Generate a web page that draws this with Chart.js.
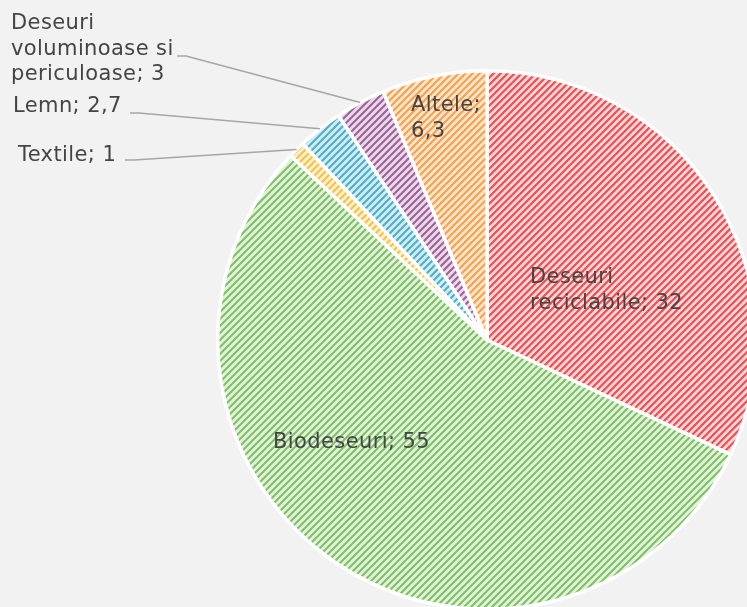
<!DOCTYPE html>
<html>
<head>
<meta charset="utf-8">
<script src="https://cdn.jsdelivr.net/npm/chart.js@4"></script>
<style>
  html, body { margin: 0; padding: 0; background: #f2f2f2; overflow: hidden; }
  #wrap { position: absolute; left: 0; top: 0; }
</style>
</head>
<body>
<div id="wrap"><canvas id="pie" width="800" height="640"></canvas></div>
<script>
const categories = ["Deseuri reciclabile", "Biodeseuri", "Textile", "Lemn", "Deseuri voluminoase si periculoase", "Altele"];
const values = [32, 55, 1, 2.7, 3, 6.3];
const lineColors = ["#f04c52", "#7dc262", "#f4c24c", "#4cb0c9", "#9d6097", "#f8a04a"];
const fillColors = ["#fdd6d6", "#e5f1df", "#fdf0ca", "#d4ecf2", "#eadaea", "#fee6ce"];

// text lines per slice, and where they sit
const labelLines = [
  ["Deseuri", "reciclabile; 32"],
  ["Biodeseuri; 55"],
  ["Textile; 1"],
  ["Lemn; 2,7"],
  ["Deseuri", "voluminoase si", "periculoase; 3"],
  ["Altele;", "6,3"]
];
const labelPos = [
  {x: 530, y: 278},
  {x: 273, y: 443},
  {x: 18, y: 156, elbow: {x: 125, y: 160}},
  {x: 13, y: 107, elbow: {x: 130, y: 113}},
  {x: 11, y: 24, elbow: {x: 177, y: 56}},
  {x: 411, y: 106}
];

function hatch(bg, fg) {
  const s = 7;
  const t = document.createElement("canvas");
  t.width = s; t.height = s;
  const g = t.getContext("2d");
  g.fillStyle = bg;
  g.fillRect(0, 0, s, s);
  g.strokeStyle = fg;
  g.lineWidth = 2.1;
  g.beginPath();
  g.moveTo(0, s); g.lineTo(s, 0);
  g.moveTo(-1, 1); g.lineTo(1, -1);
  g.moveTo(s - 1, s + 1); g.lineTo(s + 1, s - 1);
  g.stroke();
  return g.createPattern(t, "repeat");
}

const labelPlugin = {
  id: "sliceLabels",
  afterDatasetsDraw(chart) {
    const c = chart.ctx;
    const arcs = chart.getDatasetMeta(0).data;
    c.save();
    c.font = "21px DejaVu Sans";
    c.letterSpacing = "0.4px";
    c.fillStyle = "#444444";
    c.textBaseline = "middle";
    c.textAlign = "left";
    arcs.forEach((arc, i) => {
      const p = labelPos[i];
      if (p.elbow) {
        const mid = (arc.startAngle + arc.endAngle) / 2;
        const ex = arc.x + Math.cos(mid) * arc.outerRadius;
        const ey = arc.y + Math.sin(mid) * arc.outerRadius;
        c.strokeStyle = "#a6a6a6";
        c.lineWidth = 1.5;
        c.beginPath();
        c.moveTo(p.elbow.x, p.elbow.y);
        c.lineTo(p.elbow.x + 9, p.elbow.y);
        c.lineTo(ex, ey);
        c.stroke();
      }
      labelLines[i].forEach((t, k) => {
        c.fillText(t, p.x, p.y + k * 25.5);
      });
    });
    c.restore();
  }
};

new Chart(document.getElementById("pie"), {
  type: "pie",
  data: {
    labels: categories,
    datasets: [{
      data: values,
      backgroundColor: values.map((_, i) => hatch(fillColors[i], lineColors[i])),
      borderColor: "#ffffff",
      borderWidth: 3.5
    }]
  },
  options: {
    responsive: false,
    animation: false,
    devicePixelRatio: 1,
    layout: { padding: { left: 216, top: 69, right: 42, bottom: 29 } },
    plugins: {
      legend: { display: false },
      tooltip: { enabled: false }
    }
  },
  plugins: [labelPlugin]
});
</script>
</body>
</html>
